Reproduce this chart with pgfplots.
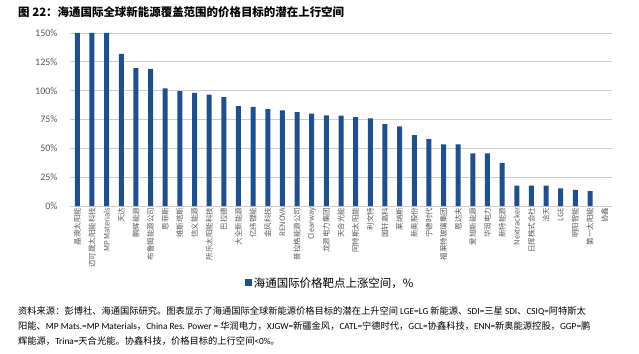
\documentclass[border=0pt]{standalone}
\usepackage{fontspec}
\setmainfont{Carlito}
\newfontfamily\cjk{Noto Sans CJK SC}
\usepackage{pgfplots}
\pgfplotsset{compat=1.18}
\definecolor{barblue}{RGB}{31,80,140}
\definecolor{tickgray}{RGB}{89,89,89}
\definecolor{gridgray}{RGB}{205,205,205}
\newcommand\lat[1]{{\rmfamily #1}}
\begin{document}
\begin{tikzpicture}[x=1bp,y=1bp]
\path (0,0) rectangle (639,353);
\begin{axis}[
  at={(70bp,147bp)}, anchor=south west,
  scale only axis, width=542bp, height=173bp,
  ybar, bar width=5bp,
  xmin=0.5, xmax=37.5, ymin=0, ymax=150,
  ytick={0,25,...,150},
  yticklabel={\pgfmathprintnumber{\tick}\%},
  /pgf/number format/assume math mode=true,
  yticklabel style={font=\fontsize{10}{10}\selectfont, text=tickgray, xshift=-9bp},
  ymajorgrids, grid style={gridgray, line width=0.9bp},
  axis x line*=bottom, axis y line*=left,
  y axis line style={draw=none},
  x axis line style={draw=gridgray, line width=0.9bp},
  major tick length=0pt,
  xtick={1,...,37},
  xticklabels={晶澳太阳能,迈可晟太阳能科技,MP Materials,天达,鹏辉能源,布鲁姆能源公司,恩菲斯,维斯塔斯,信义能源,所乐太阳能科技,巴拉德,大全新能源,亿纬锂能,金风科技,RENOVA,普拉格能源公司,Clearway,龙源电力集团,天合光能,阿特斯太阳能,利文特,国轩高科,莱纳斯,新奥股份,宁德时代,福莱特玻璃集团,恩达夫,爱旭新能源,华润电力,新特能源,Nextracker,日挥株式会社,洽天,LGE,明阳智能,第一太阳能,协鑫},
  xticklabel style={rotate=90, anchor=east, font=\cjk\fontsize{7.5}{7.5}\selectfont, text=tickgray, inner sep=1.5bp},
  legend style={at={(0.48,-0.445)}, anchor=center, draw=none, font=\cjk\fontsize{11.5}{12}\selectfont, inner sep=1bp},
  legend image code/.code={\fill[barblue] (0bp,-3.5bp) rectangle (7bp,3.5bp);},
]
\addplot[fill=barblue, draw=none] coordinates {
(1,150) (2,150) (3,150) (4,132) (5,119.5) (6,119) (7,102) (8,99.5) (9,98) (10,96.5)
(11,94.5) (12,86.5) (13,86) (14,84) (15,83) (16,81.5) (17,80) (18,78.5) (19,78.3) (20,77)
(21,76) (22,71) (23,69) (24,61.5) (25,58) (26,53.5) (27,53.5) (28,45.7) (29,45.7) (30,37.5)
(31,17.6) (32,17.6) (33,17.6) (34,15.3) (35,14) (36,13)
};
\addlegendentry{海通国际价格靶点上涨空间，\%}
\end{axis}
\node[anchor=west, font=\cjk\bfseries\fontsize{11.5}{12}\selectfont, inner sep=0] at (18,341) {图 22：海通国际全球新能源覆盖范围的价格目标的潜在上行空间};
\begin{scope}[every node/.style={anchor=west, inner sep=0, font=\cjk\fontsize{9.3}{10}\selectfont}]
\node at (18,42) {资料来源：彭博社、海通国际研究。图表显示了海通国际全球新能源价格目标的潜在上升空间 \lat{LGE=LG} 新能源、\lat{SDI=}三星 \lat{SDI}、\lat{CSIQ=}阿特斯太};
\node at (18,27) {阳能、\lat{MP Mats.=MP Materials}，\lat{China Res. Power =} 华润电力，\lat{XJGW=}新疆金风，\lat{CATL=}宁德时代，\lat{GCL=}协鑫科技，\lat{ENN=}新奥能源控股，\lat{GGP=}鹏};
\node at (18,12) {辉能源，\lat{Trina=}天合光能。协鑫科技，价格目标的上行空间\lat{<0\%}。};
\end{scope}
\end{tikzpicture}
\end{document}
